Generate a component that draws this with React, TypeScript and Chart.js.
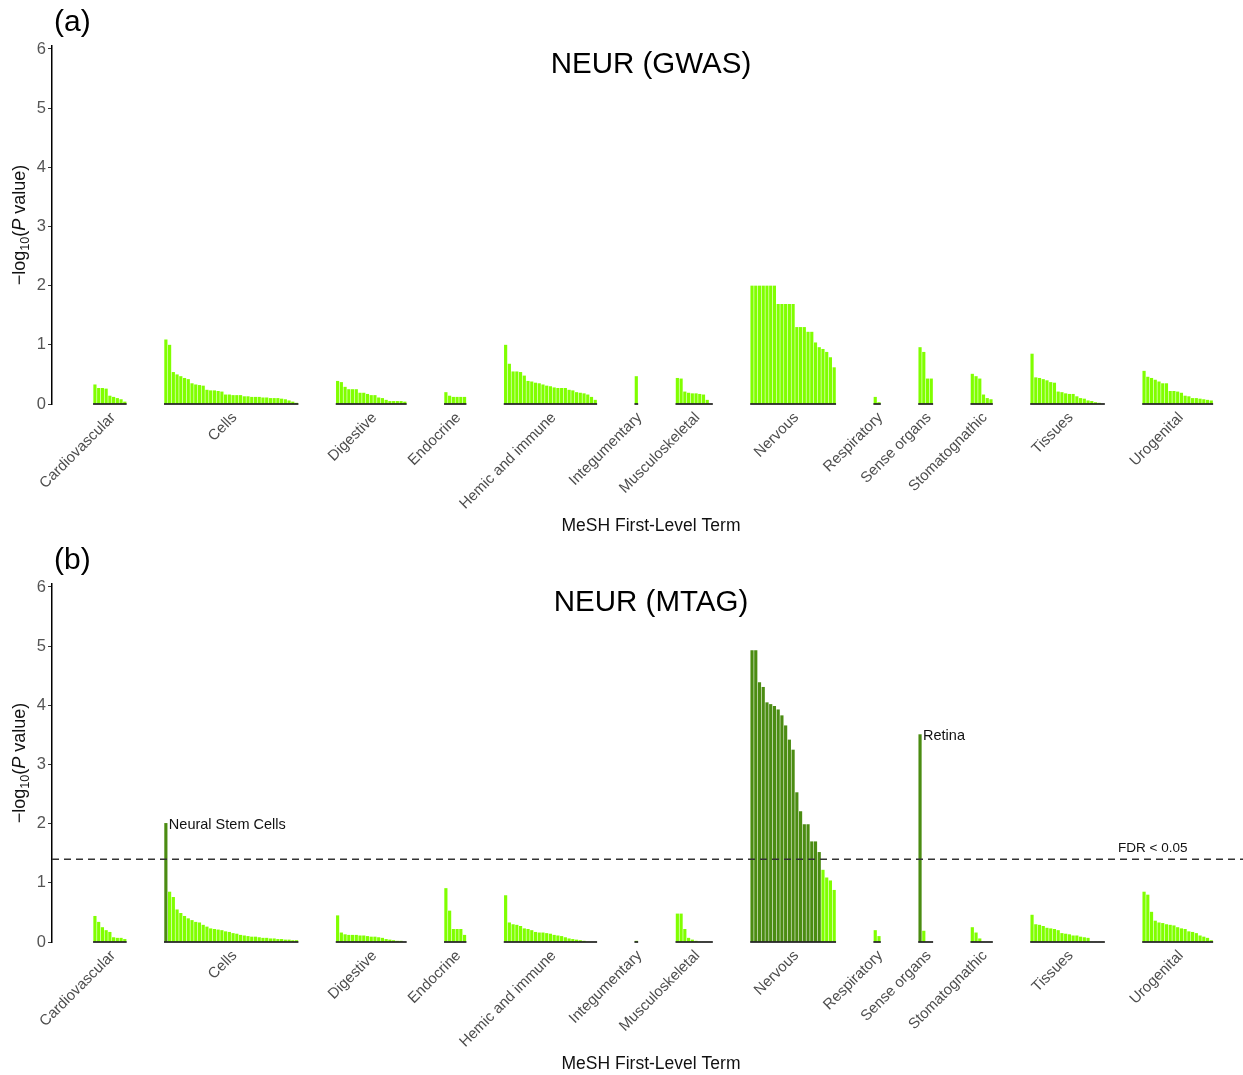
import React, { useEffect, useRef } from 'react';
import { Chart, registerables } from 'chart.js';

Chart.register(...registerables);

// ---------- data ----------
const groups = [
  'Cardiovascular', 'Cells', 'Digestive', 'Endocrine', 'Hemic and immune', 'Integumentary',
  'Musculoskeletal', 'Nervous', 'Respiratory', 'Sense organs', 'Stomatognathic', 'Tissues', 'Urogenital',
];

// Panel (a): NEUR (GWAS)  -log10(P) per MeSH term, sorted within each first-level term
const gwasCardiovascular = [0.33, 0.27, 0.27, 0.26, 0.14, 0.12, 0.10, 0.08, 0.04];
const gwasCells = [1.09, 1.0, 0.54, 0.5, 0.47, 0.44, 0.42, 0.35, 0.33, 0.32, 0.31, 0.24, 0.23, 0.23, 0.22, 0.21, 0.16, 0.16, 0.15, 0.15, 0.15, 0.13, 0.13, 0.12, 0.12, 0.12, 0.11, 0.11, 0.1, 0.1, 0.1, 0.09, 0.08, 0.06, 0.04, 0.02];
const gwasDigestive = [0.39, 0.37, 0.29, 0.25, 0.25, 0.25, 0.19, 0.19, 0.17, 0.15, 0.15, 0.11, 0.1, 0.07, 0.05, 0.05, 0.05, 0.05, 0.04];
const gwasEndocrine = [0.2, 0.14, 0.12, 0.12, 0.12, 0.12];
const gwasHemic = [1.0, 0.68, 0.55, 0.55, 0.54, 0.48, 0.39, 0.38, 0.36, 0.35, 0.33, 0.31, 0.3, 0.28, 0.27, 0.27, 0.27, 0.24, 0.23, 0.2, 0.19, 0.18, 0.16, 0.12, 0.07];
const gwasIntegumentary = [0.47];
const gwasMusculoskeletal = [0.44, 0.43, 0.21, 0.19, 0.18, 0.18, 0.17, 0.16, 0.07, 0.01];
const gwasNervous = [2.0, 2.0, 2.0, 2.0, 2.0, 2.0, 2.0, 1.69, 1.69, 1.69, 1.69, 1.69, 1.3, 1.3, 1.3, 1.22, 1.22, 1.04, 0.96, 0.93, 0.88, 0.79, 0.62];
const gwasRespiratory = [0.12, 0.03];
const gwasSenseOrgans = [0.96, 0.88, 0.43, 0.43];
const gwasStomatognathic = [0.51, 0.47, 0.43, 0.16, 0.1, 0.08];
const gwasTissues = [0.85, 0.45, 0.44, 0.42, 0.4, 0.37, 0.36, 0.21, 0.2, 0.18, 0.17, 0.17, 0.13, 0.1, 0.09, 0.06, 0.05, 0.03, 0.02, 0.01];
const gwasUrogenital = [0.56, 0.46, 0.44, 0.41, 0.38, 0.35, 0.35, 0.22, 0.22, 0.21, 0.19, 0.14, 0.13, 0.1, 0.1, 0.09, 0.08, 0.07, 0.06];

// Panel (b): NEUR (MTAG)
const mtagCardiovascular = [0.44, 0.34, 0.25, 0.2, 0.17, 0.08, 0.07, 0.07, 0.05];
const mtagCells = [2.01, 0.85, 0.76, 0.55, 0.49, 0.44, 0.4, 0.37, 0.34, 0.33, 0.29, 0.26, 0.23, 0.22, 0.21, 0.2, 0.18, 0.17, 0.15, 0.14, 0.12, 0.11, 0.1, 0.09, 0.09, 0.08, 0.07, 0.07, 0.06, 0.06, 0.05, 0.05, 0.04, 0.04, 0.03, 0.03];
const mtagDigestive = [0.45, 0.16, 0.13, 0.12, 0.12, 0.12, 0.11, 0.11, 0.1, 0.09, 0.09, 0.08, 0.07, 0.05, 0.04, 0.03, 0.02, 0.02, 0.01];
const mtagEndocrine = [0.91, 0.53, 0.22, 0.22, 0.22, 0.12];
const mtagHemic = [0.79, 0.33, 0.3, 0.29, 0.27, 0.23, 0.22, 0.2, 0.17, 0.16, 0.16, 0.15, 0.14, 0.12, 0.11, 0.1, 0.08, 0.06, 0.05, 0.04, 0.03, 0.02, 0.01, 0.01, 0.01];
const mtagIntegumentary = [0.02];
const mtagMusculoskeletal = [0.48, 0.48, 0.22, 0.07, 0.04, 0.02, 0.01, 0.01, 0.01, 0.01];
const mtagNervous = [4.93, 4.93, 4.39, 4.31, 4.05, 4.02, 3.99, 3.93, 3.83, 3.66, 3.42, 3.25, 2.53, 2.21, 1.99, 1.99, 1.7, 1.7, 1.52, 1.22, 1.09, 1.04, 0.88];
const mtagRespiratory = [0.2, 0.1];
const mtagSenseOrgans = [3.51, 0.19, 0.01, 0.01];
const mtagStomatognathic = [0.25, 0.16, 0.06, 0.01, 0.01, 0.01];
const mtagTissues = [0.46, 0.3, 0.29, 0.27, 0.24, 0.23, 0.22, 0.2, 0.15, 0.14, 0.13, 0.11, 0.11, 0.09, 0.08, 0.07, 0.01, 0.01, 0.01, 0.01];
const mtagUrogenital = [0.85, 0.8, 0.51, 0.36, 0.33, 0.32, 0.3, 0.29, 0.28, 0.25, 0.23, 0.22, 0.18, 0.17, 0.15, 0.11, 0.09, 0.07, 0.03];

const gwasGroups = [gwasCardiovascular, gwasCells, gwasDigestive, gwasEndocrine, gwasHemic, gwasIntegumentary, gwasMusculoskeletal, gwasNervous, gwasRespiratory, gwasSenseOrgans, gwasStomatognathic, gwasTissues, gwasUrogenital];
const mtagGroups = [mtagCardiovascular, mtagCells, mtagDigestive, mtagEndocrine, mtagHemic, mtagIntegumentary, mtagMusculoskeletal, mtagNervous, mtagRespiratory, mtagSenseOrgans, mtagStomatognathic, mtagTissues, mtagUrogenital];

const yTicks = [0, 1, 2, 3, 4, 5, 6];
const fdrThreshold = 1.4;
const mtagAnnotations = [
  { group: 'Cells', rank: 0, text: 'Neural Stem Cells' },
  { group: 'Sense organs', rank: 0, text: 'Retina' },
];

// ---------- layout / style ----------
const FONT = '"Liberation Sans", Arial, Helvetica, sans-serif';
const LEAD_SLOTS = 11;
const GAP_SLOTS = 10;
const TRAIL_SLOTS = 8;
const LIGHT = '#80FF00';
const DARK = '#4B8C12';
const W = 1243;

function buildLayout(values: number[][]) {
  const data: (number | null)[] = [];
  const ranges: { start: number; end: number }[] = [];
  for (let i = 0; i < LEAD_SLOTS; i++) data.push(null);
  values.forEach((g, gi) => {
    if (gi > 0) for (let i = 0; i < GAP_SLOTS; i++) data.push(null);
    const start = data.length;
    g.forEach((v) => data.push(v));
    ranges.push({ start, end: data.length - 1 });
  });
  for (let i = 0; i < TRAIL_SLOTS; i++) data.push(null);
  return { data, ranges };
}

function drawYTitle(ctx: CanvasRenderingContext2D, cx: number, cy: number) {
  const big = 18;
  const small = 12.6;
  const parts = [
    { t: '\u2212log', f: `${big}px ${FONT}`, dy: 0 },
    { t: '10', f: `${small}px ${FONT}`, dy: 4 },
    { t: '(', f: `${big}px ${FONT}`, dy: 0 },
    { t: 'P', f: `italic ${big}px ${FONT}`, dy: 0 },
    { t: ' value)', f: `${big}px ${FONT}`, dy: 0 },
  ];
  ctx.save();
  ctx.translate(cx, cy);
  ctx.rotate(-Math.PI / 2);
  const widths = parts.map((p) => {
    ctx.font = p.f;
    return ctx.measureText(p.t).width;
  });
  const total = widths.reduce((a, b) => a + b, 0);
  let x = -total / 2;
  ctx.fillStyle = '#111';
  ctx.textAlign = 'left';
  ctx.textBaseline = 'alphabetic';
  parts.forEach((p, i) => {
    ctx.font = p.f;
    ctx.fillText(p.t, x, p.dy);
    x += widths[i];
  });
  ctx.restore();
}

type PanelProps = {
  values: number[][];
  title: string;
  letter: string;
  significant: boolean;
  annotations: { group: string; rank: number; text: string }[];
  height: number;
};

function Panel({ values, title, letter, significant, annotations, height }: PanelProps) {
  const ref = useRef<HTMLCanvasElement | null>(null);

  useEffect(() => {
    if (!ref.current) return;
    const { data, ranges } = buildLayout(values);
    const labels = data.map((_, i) => String(i));
    const colors = data.map((v) => (significant && v !== null && v > fdrThreshold ? DARK : LIGHT));

    const overlay = {
      id: 'overlay-' + letter,
      afterDatasetsDraw(chart: any) {
        const ctx: CanvasRenderingContext2D = chart.ctx;
        const xs = chart.scales.x;
        const ys = chart.scales.y;
        const area = chart.chartArea;
        const y0 = ys.getPixelForValue(0);
        ctx.save();
        // baselines under each group
        ctx.strokeStyle = '#000';
        ctx.lineWidth = 1.5;
        ranges.forEach((r) => {
          const l = xs.getPixelForValue(r.start - 0.5);
          const rr = xs.getPixelForValue(r.end + 0.5);
          ctx.beginPath();
          ctx.moveTo(l, y0);
          ctx.lineTo(rr, y0);
          ctx.stroke();
        });
        // FDR line
        if (significant) {
          const yf = ys.getPixelForValue(fdrThreshold);
          ctx.strokeStyle = '#333';
          ctx.lineWidth = 1.5;
          ctx.setLineDash([7, 5]);
          ctx.beginPath();
          ctx.moveTo(area.left, yf);
          ctx.lineTo(area.right, yf);
          ctx.stroke();
          ctx.setLineDash([]);
          ctx.fillStyle = '#111';
          ctx.font = `13.5px ${FONT}`;
          ctx.textAlign = 'left';
          ctx.textBaseline = 'middle';
          ctx.fillText('FDR < 0.05', 1118, yf - 11);
        }
        // annotations
        ctx.fillStyle = '#111';
        ctx.font = `14.5px ${FONT}`;
        ctx.textAlign = 'left';
        ctx.textBaseline = 'middle';
        annotations.forEach((a) => {
          const gi = groups.indexOf(a.group);
          const idx = ranges[gi].start + a.rank;
          const v = values[gi][a.rank];
          ctx.fillText(a.text, xs.getPixelForValue(idx) + 3, ys.getPixelForValue(v) + 2);
        });
        ctx.restore();
      },
      afterDraw(chart: any) {
        const ctx: CanvasRenderingContext2D = chart.ctx;
        const xs = chart.scales.x;
        ctx.save();
        // panel letter
        ctx.fillStyle = '#000';
        ctx.font = `30px ${FONT}`;
        ctx.textAlign = 'left';
        ctx.textBaseline = 'alphabetic';
        ctx.fillText(letter, 54, 31);
        // title
        ctx.font = `29.5px ${FONT}`;
        ctx.textAlign = 'center';
        ctx.fillText(title, 651, 73);
        // x title
        ctx.font = `17.5px ${FONT}`;
        ctx.fillStyle = '#111';
        ctx.fillText('MeSH First-Level Term', 651, 531);
        // group labels
        ctx.fillStyle = '#4d4d4d';
        ctx.font = `15px ${FONT}`;
        ranges.forEach((r, gi) => {
          const cx = xs.getPixelForValue((r.start + r.end) / 2);
          ctx.save();
          ctx.translate(cx - 2, 410);
          ctx.rotate(-Math.PI / 4);
          ctx.textAlign = 'right';
          ctx.textBaseline = 'top';
          ctx.fillText(groups[gi], 0, 0);
          ctx.restore();
        });
        ctx.restore();
        drawYTitle(ctx, 25, 225);
      },
    };

    const chart = new Chart(ref.current, {
      type: 'bar',
      data: {
        labels,
        datasets: [
          {
            data,
            backgroundColor: colors,
            borderWidth: 0,
            barPercentage: 0.85,
            categoryPercentage: 1.0,
          } as any,
        ],
      },
      options: {
        responsive: false,
        animation: false,
        devicePixelRatio: 1,
        layout: { padding: { top: 46, left: 0, right: 0, bottom: 0 } },
        plugins: {
          legend: { display: false },
          tooltip: { enabled: false },
          title: { display: false },
        },
        scales: {
          x: {
            type: 'category',
            offset: true,
            grid: { display: false },
            border: { display: false },
            ticks: { display: false },
            afterFit: (s: any) => {
              s.height = height - 404;
              s.paddingLeft = 0;
              s.paddingRight = 0;
            },
          },
          y: {
            min: 0,
            max: 6.05,
            afterBuildTicks: (s: any) => {
              s.ticks = yTicks.map((v) => ({ value: v }));
            },
            ticks: {
              color: '#555',
              font: { family: FONT, size: 16.5 },
              padding: 2,
            },
            grid: {
              display: true,
              drawOnChartArea: false,
              drawTicks: true,
              tickLength: 4,
              color: '#333',
              lineWidth: 1,
            },
            border: { display: true, color: '#000', width: 1.5 },
            afterFit: (s: any) => {
              s.width = 52;
              s.paddingTop = 0;
              s.paddingBottom = 0;
            },
          },
        },
      } as any,
      plugins: [overlay],
    });
    return () => chart.destroy();
  }, [values, title, letter, significant, annotations, height]);

  return <canvas ref={ref} width={W} height={height} style={{ display: 'block' }} />;
}

export default function App() {
  return (
    <div style={{ position: 'fixed', left: 0, top: 0, width: W, height: 1075, background: '#fff' }}>
      <Panel values={gwasGroups} title="NEUR (GWAS)" letter="(a)" significant={false} annotations={[]} height={538} />
      <Panel values={mtagGroups} title="NEUR (MTAG)" letter="(b)" significant={true} annotations={mtagAnnotations} height={537} />
    </div>
  );
}
